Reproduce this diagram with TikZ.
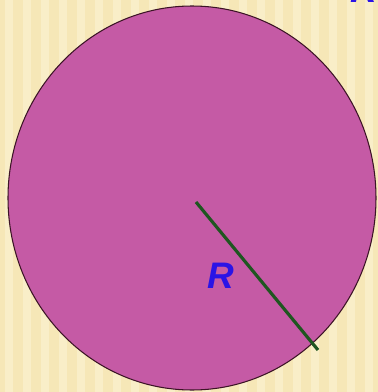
\documentclass[tikz,border=0pt]{standalone}
\usepackage{fontspec}
\newfontfamily\labelfont{Liberation Sans}
\usepackage{xcolor}
\usepackage{tikz}
\usepackage{tkz-euclide}
\usetikzlibrary{positioning}
\definecolor{paper}{RGB}{246,231,183}
\definecolor{paperlight}{RGB}{249,238,200}
\definecolor{disc}{RGB}{197,90,165}
\definecolor{discedge}{RGB}{60,20,38}
\definecolor{radiusgreen}{RGB}{31,86,32}
\definecolor{labelblue}{RGB}{42,20,230}
\newcommand{\lbl}[1]{{\labelfont\bfseries\itshape\fontsize{21}{24}\selectfont #1}}

\begin{document}
\begin{tikzpicture}
\useasboundingbox (0,0) rectangle (7.56,7.84);
\clip (0,0) rectangle (7.56,7.84);

\fill[paper] (0,0) rectangle (7.56,7.84);
\foreach \x in {0.10,0.46,...,7.6}
  \fill[paperlight] (\x,0) rectangle ++(0.16,7.84);

\tkzDefPoint(7.00,7.80){top};
\node at (top)[anchor=base west,inner sep=0pt,text=labelblue]{\lbl{R}};

\tkzDefPoint(3.84,3.88){O};
\draw[discedge,line width=0.6pt,fill=disc](O) ellipse (3.68 and 3.84);

\tkzDefPoint(3.92,3.80){c};
\tkzDefPoint(6.36,0.84){e};
\draw[radiusgreen,line width=1.8pt](c) -- (e);

\tkzDefPoint(4.42,2.32){r};
\node at (r)[text=labelblue]{\lbl{R}};
\end{tikzpicture}
\end{document}
